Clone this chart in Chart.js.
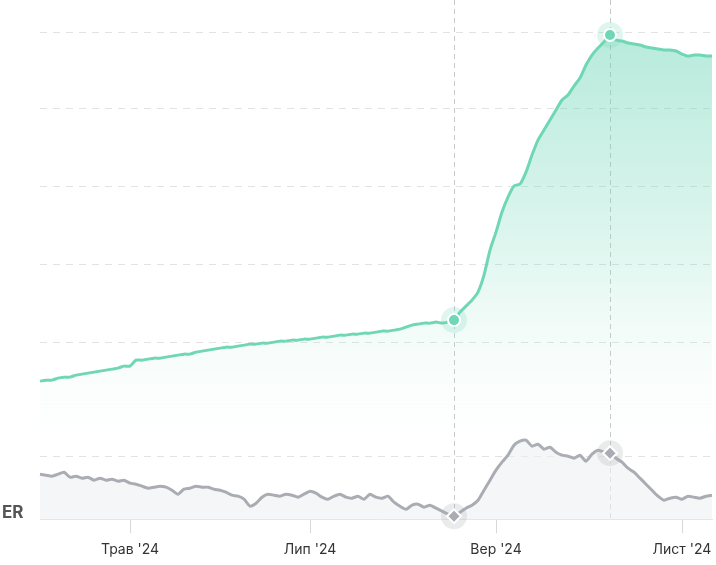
<!DOCTYPE html>
<html><head><meta charset="utf-8">
<script src="https://cdn.jsdelivr.net/npm/chart.js@4"></script>
<style>html,body{margin:0;padding:0;background:#fff;overflow:hidden}#wrap{width:720px;height:565px}</style>
</head><body><div id="wrap"><canvas id="c"></canvas></div>
<script>
const startDate = [2024, 3, 2]; // 2 Apr 2024, step of 2 days
const monthNames = ['Січ','Лют','Бер','Квіт','Трав','Черв','Лип','Серп','Вер','Жовт','Лист','Груд'];
const tickMonths = [4, 6, 8, 10];
const greenValues = [138,139,139,141,142,142,144,145,146,147,148,149,150,151,153,153,159,159,160,161,161,162,163,164,165,165,167,168,169,170,171,172,172,173,174,175,175,176,176,177,178,178,179,179,180,180,181,182,182,183,184,184,185,185,186,186,187,188,188,189,190,192,194,195,196,196,197,196,197,199,207,213,219,227,244,269,287,307,322,333,335,347,364,379,389,399,409,419,424,433,441,454,464,471,477,484,479,478,476,475,474,472,471,470,469,469,468,465,463,464,464,463,463];
const grayValues = [45,44,43,45,47,42,43,41,42,39,41,39,40,38,39,36,35,33,31,32,33,32,29,25,30,31,33,32,32,30,29,27,24,23,20,13,16,22,25,24,23,25,24,22,25,28,26,22,20,23,25,22,21,23,20,25,22,21,23,17,13,10,14,15,12,14,11,8,5,3,7,11,14,19,29,39,49,57,64,74,78,79,73,75,70,72,67,64,63,61,64,58,65,69,67,66,61,57,51,47,41,35,29,23,19,21,22,20,23,22,21,23,24];
const gridValues = [63,177,255,333,411,487];
const highlightIdx = [69, 95];

const labels = [], monthStart = {};
let seen = new Set();
for (let i = 0; i < greenValues.length; i++) {
  const d = new Date(startDate[0], startDate[1], startDate[2] + 2*i);
  const m = d.getMonth();
  labels.push(d.toISOString().slice(0,10));
  if (!seen.has(m)) { seen.add(m); if (i>0 && tickMonths.includes(m)) monthStart[i] = monthNames[m] + " '24"; }
}

const overlay = {
  id: 'overlay',
  beforeDatasetsDraw(chart) {
    const {ctx, chartArea} = chart, x = chart.scales.x;
    ctx.save();
    ctx.strokeStyle = '#c8c8c8'; ctx.lineWidth = 1; ctx.setLineDash([5,4]);
    highlightIdx.forEach(i => { const px = Math.round(x.getPixelForValue(i))+0.5; ctx.beginPath(); ctx.moveTo(px, 0); ctx.lineTo(px, chartArea.bottom); ctx.stroke(); });
    ctx.restore();
  },
  afterDatasetsDraw(chart) {
    const {ctx} = chart, x = chart.scales.x, y = chart.scales.y;
    ctx.save();
    highlightIdx.forEach(i => {
      const px = x.getPixelForValue(i);
      let py = y.getPixelForValue(greenValues[i]);
      ctx.fillStyle = 'rgba(110,214,182,0.22)'; ctx.beginPath(); ctx.arc(px, py, 13, 0, Math.PI*2); ctx.fill();
      ctx.fillStyle = '#6fd6b6'; ctx.strokeStyle = '#fff'; ctx.lineWidth = 2;
      ctx.beginPath(); ctx.arc(px, py, 6, 0, Math.PI*2); ctx.fill(); ctx.stroke();
      py = y.getPixelForValue(grayValues[i]);
      ctx.fillStyle = 'rgba(170,174,180,0.25)'; ctx.beginPath(); ctx.arc(px, py, 13, 0, Math.PI*2); ctx.fill();
      ctx.fillStyle = '#a9adb3'; ctx.beginPath();
      ctx.moveTo(px, py-7); ctx.lineTo(px+7, py); ctx.lineTo(px, py+7); ctx.lineTo(px-7, py); ctx.closePath(); ctx.fill(); ctx.stroke();
    });
    ctx.fillStyle = '#555'; ctx.font = 'bold 17px Inter, "Liberation Sans", sans-serif';
    ctx.textBaseline = 'middle'; ctx.fillText('ER', 2, 513);
    ctx.restore();
  }
};

new Chart(document.getElementById('c'), {
  type: 'line',
  data: { labels, datasets: [
    { data: greenValues, borderColor: '#6fd6b6', borderWidth: 3, pointRadius: 0, tension: 0.2, fill: 'origin',
      backgroundColor(ctx) { const a = ctx.chart.chartArea; if (!a) return 'transparent';
        const g = ctx.chart.ctx.createLinearGradient(0, 30, 0, 470);
        g.addColorStop(0, 'rgba(110,214,182,0.5)'); g.addColorStop(0.5, 'rgba(110,214,182,0.22)'); g.addColorStop(1, 'rgba(255,255,255,0)'); return g; } },
    { data: grayValues, borderColor: '#a9adb3', borderWidth: 3, pointRadius: 0, tension: 0.2, fill: 'origin', backgroundColor: 'rgba(238,240,242,0.6)' }
  ]},
  options: {
    responsive: true, maintainAspectRatio: false, animation: false,
    layout: { padding: { left: 40, right: 0, top: 20, bottom: -1 } },
    plugins: { legend: { display: false }, tooltip: { enabled: false } },
    scales: {
      x: { offset: false,
        border: { display: true, color: '#e6e6e6' },
        grid: { drawOnChartArea: false, drawTicks: true, tickLength: 14, color: c => monthStart[c.index] ? '#d8d8d8' : 'rgba(0,0,0,0)' },
        ticks: { autoSkip: false, maxRotation: 0, padding: 8, color: '#333', font: { size: 14, family: 'Inter, "Liberation Sans", sans-serif' },
          callback: (v, i) => monthStart[i] || '' } },
      y: { min: 0, max: 499, display: true,
        afterBuildTicks: s => { s.ticks = gridValues.map(v => ({ value: v })); },
        border: { display: false, dash: [7,6] },
        grid: { color: '#e2e2e2', drawTicks: false },
        ticks: { display: false } }
    }
  },
  plugins: [overlay]
});
</script></body></html>
